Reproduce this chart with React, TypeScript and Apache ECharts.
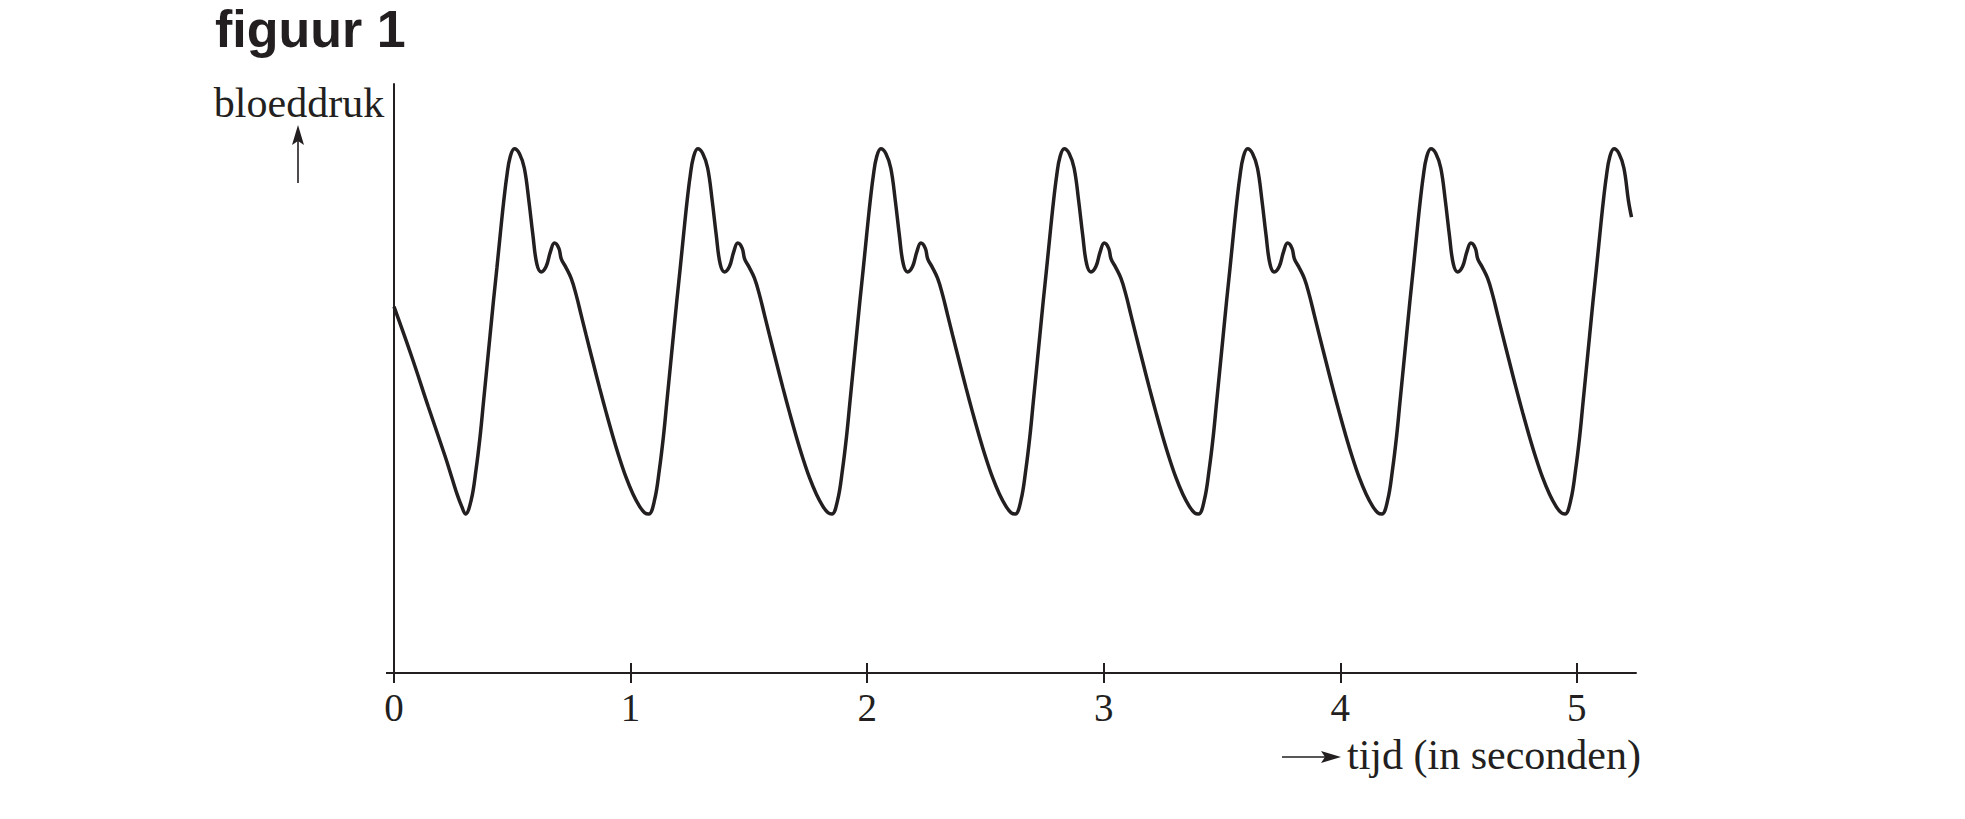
import React, { useEffect, useRef } from "react";
import * as echarts from "echarts";

// Tick labels of the time axis (seconden)
const timeTicks = [0, 1, 2, 3, 4, 5];

// Start of each heart beat (time of the pressure minimum, in s)
const beatOnsets = [0.302, 1.077, 1.851, 2.626, 3.401, 4.176, 4.95];

// Shape of one beat: time after the onset (s) and pressure (relative units, 0..100 = axis height)
const beatTimes = [
  0, 0.024, 0.045, 0.062, 0.076, 0.09, 0.104, 0.118, 0.133, 0.147, 0.161, 0.175, 0.189, 0.207,
  0.228, 0.249, 0.268, 0.285, 0.302, 0.32, 0.341, 0.359, 0.376, 0.395, 0.405, 0.423, 0.447,
  0.468, 0.489, 0.51, 0.539, 0.567, 0.595, 0.623, 0.651, 0.679, 0.708, 0.736, 0.758,
];
const beatPressure = [
  27.0, 29.3, 34.6, 40.2, 45.9, 51.6, 57.3, 63.0, 68.8, 74.4, 79.8, 84.4, 87.6, 89.0,
  88.2, 85.7, 80.2, 74.4, 69.4, 68.1, 69.0, 71.5, 73.0, 72.1, 70.3, 69.0, 67.0,
  64.2, 60.8, 57.4, 52.8, 48.4, 44.2, 40.2, 36.5, 33.2, 30.4, 28.3, 27.2,
];

// Tail of the previous beat, visible before the first onset
const leadTimes = [0, 0.075, 0.145, 0.216, 0.245, 0.268, 0.287];
const leadPressure = [62.2, 53.7, 45.2, 36.8, 33.1, 30.2, 28.2];

// Where the drawn curve ends
const endTime = 5.231;
const endPressure = 77.4;

const INK = "#231f20";
const SERIF = "'Liberation Serif', 'DejaVu Serif', serif";
const SANS = "'Liberation Sans', Arial, sans-serif";

function buildCurve(): number[][] {
  const pts: number[][] = [];
  leadTimes.forEach((t, i) => pts.push([t, leadPressure[i]]));
  beatOnsets.forEach((t0, k) => {
    const next = k + 1 < beatOnsets.length ? beatOnsets[k + 1] : Infinity;
    beatTimes.forEach((dt, i) => {
      const t = +(t0 + dt).toFixed(4);
      if (t < endTime - 0.01 && t < next - 0.01) pts.push([t, beatPressure[i]]);
    });
  });
  pts.push([endTime, endPressure]);
  return pts;
}

export default function App() {
  const ref = useRef<HTMLDivElement>(null);

  useEffect(() => {
    document.body.style.margin = "0";
    document.body.style.overflow = "hidden";
    const chart = echarts.init(ref.current!, null, { renderer: "svg" });
    const axisCommon = {
      type: "value",
      min: 0,
      max: 5.25,
      interval: 1,
      position: "bottom",
      offset: 0,
      splitLine: { show: false },
    };
    chart.setOption({
      animation: false,
      backgroundColor: "#ffffff",
      grid: { left: 394, right: 329, top: 84, bottom: 146, containLabel: false },
      xAxis: [
        {
          ...axisCommon,
          axisLine: { show: true, lineStyle: { color: INK, width: 2 } },
          axisTick: { show: true, inside: false, length: 10, customValues: timeTicks, lineStyle: { color: INK, width: 2 } },
          axisLabel: {
            show: true,
            customValues: timeTicks,
            margin: 15,
            color: INK,
            fontFamily: SERIF,
            fontSize: 39,
            formatter: (v: number) => String(v),
          },
        },
        {
          ...axisCommon,
          axisLine: { show: false },
          axisTick: { show: true, inside: true, length: 10, customValues: timeTicks, lineStyle: { color: INK, width: 2 } },
          axisLabel: { show: false },
        },
      ],
      yAxis: {
        type: "value",
        min: 0,
        max: 100,
        axisLine: { show: true, lineStyle: { color: INK, width: 2 } },
        axisTick: { show: false },
        axisLabel: { show: false },
        splitLine: { show: false },
      },
      series: [
        {
          type: "line",
          xAxisIndex: 0,
          data: buildCurve(),
          smooth: 0.4,
          showSymbol: false,
          lineStyle: { color: INK, width: 3.5 },
          silent: true,
        },
      ],
      graphic: [
        {
          type: "text",
          style: { text: "figuur 1", x: 215, y: 29, font: `bold 52px ${SANS}`, fill: INK, align: "left", verticalAlign: "middle" },
        },
        {
          type: "text",
          style: { text: "bloeddruk", x: 299, y: 103, font: `42px ${SERIF}`, fill: INK, align: "center", verticalAlign: "middle" },
        },
        { type: "line", shape: { x1: 298, y1: 138, x2: 298, y2: 183 }, style: { stroke: INK, lineWidth: 1.6 } },
        { type: "polygon", shape: { points: [[298, 125], [304, 145], [298, 141], [292, 145]] }, style: { fill: INK } },
        { type: "line", shape: { x1: 1282, y1: 757, x2: 1328, y2: 757 }, style: { stroke: INK, lineWidth: 1.6 } },
        { type: "polygon", shape: { points: [[1341, 757], [1321, 751], [1325, 757], [1321, 763]] }, style: { fill: INK } },
        {
          type: "text",
          style: { text: "tijd (in seconden)", x: 1347, y: 755, font: `42px ${SERIF}`, fill: INK, align: "left", verticalAlign: "middle" },
        },
        { type: "line", shape: { x1: 386, y1: 673, x2: 395, y2: 673 }, style: { stroke: INK, lineWidth: 2 } },
      ],
    });
    return () => chart.dispose();
  }, []);

  return <div ref={ref} style={{ position: "absolute", left: 0, top: 0, width: 1965, height: 819 }} />;
}
